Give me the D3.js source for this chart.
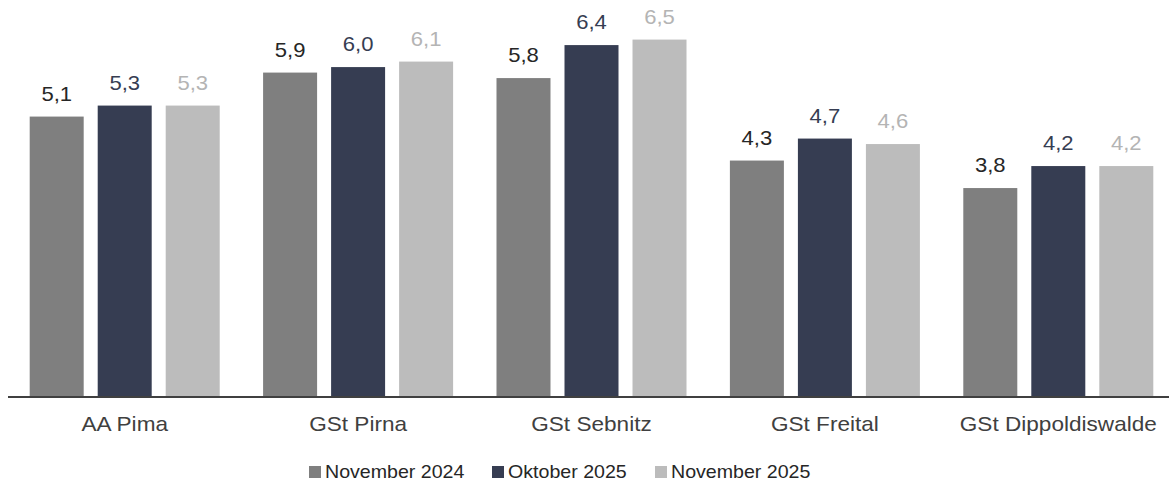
<!DOCTYPE html>
<html>
<head>
<meta charset="utf-8">
<script src="https://cdn.jsdelivr.net/npm/d3@7"></script>
<style>
    body { margin: 0; background: #fff; overflow: hidden; }
    svg { display: block; }
    text { font-family: "Liberation Sans", Arial, sans-serif; }
</style>
</head>
<body>
<div id="chart"></div>
<script>
let categories = ["AA Pima", "GSt Pirna", "GSt Sebnitz", "GSt Freital", "GSt Dippoldiswalde"];
let seriesNames = ["November 2024", "Oktober 2025", "November 2025"];
let nov2024 = [5.1, 5.9, 5.8, 4.3, 3.8];
let okt2025 = [5.3, 6.0, 6.4, 4.7, 4.2];
let nov2025 = [5.3, 6.1, 6.5, 4.6, 4.2];

let barColors = ["#7f7f7f", "#363d52", "#bcbcbc"];
let labelColors = ["#262626", "#363d52", "#b4b4b4"];

let w = 1169;
let h = 481;
let baseY = 397;

let svg = d3.select("#chart")
    .append("svg")
    .attr("width", w)
    .attr("height", h);

let xScale = d3.scaleBand()
    .domain(categories)
    .range([8, 1175]);

let xSub = d3.scaleBand()
    .domain(seriesNames)
    .range([0, xScale.bandwidth()])
    .paddingInner(0.206)
    .paddingOuter(0.319);

let yScale = d3.scaleLinear()
    .domain([0, 7.22])
    .range([baseY, 0]);

let allSeries = [nov2024, okt2025, nov2025];
let rows = [];
for (let i = 0; i < categories.length; i++) {
    for (let s = 0; s < seriesNames.length; s++) {
        rows.push({cat: categories[i], series: seriesNames[s], idx: s, value: allSeries[s][i]});
    }
}

let fmt = v => d3.format(".1f")(v).replace(".", ",");

svg.append("g")
    .selectAll("rect")
    .data(rows)
    .join("rect")
    .attr("x", d => xScale(d.cat) + xSub(d.series))
    .attr("y", d => yScale(d.value))
    .attr("width", xSub.bandwidth())
    .attr("height", d => yScale(0) - yScale(d.value))
    .attr("fill", d => barColors[d.idx]);

svg.append("g")
    .selectAll("text")
    .data(rows)
    .join("text")
    .attr("transform", d => "translate(" + (xScale(d.cat) + xSub(d.series) + xSub.bandwidth() / 2) + "," + (yScale(d.value) - 16) + ") scale(1.05,1)")
    .attr("text-anchor", "middle")
    .attr("font-size", 21)
    .attr("fill", d => labelColors[d.idx])
    .text(d => fmt(d.value));

// x axis
let xaxis = svg.append("g")
    .attr("transform", "translate(0," + baseY + ")")
    .call(d3.axisBottom(xScale).tickSize(0).tickPadding(20));
xaxis.select(".domain")
    .attr("stroke", "#404040")
    .attr("stroke-width", 2)
    .attr("d", "M8,0H1169");
xaxis.selectAll(".tick text")
    .attr("font-size", 20)
    .attr("font-family", "Liberation Sans, Arial, sans-serif")
    .attr("fill", "#404040")
    .attr("transform", "scale(1.13,1)");

// legend
let legendX = [309, 492, 655];
let legend = svg.append("g")
    .selectAll("g")
    .data(seriesNames)
    .join("g")
    .attr("transform", (d, i) => "translate(" + legendX[i] + ",466)");
legend.append("rect")
    .attr("width", 12)
    .attr("height", 12)
    .attr("fill", (d, i) => barColors[i]);
legend.append("text")
    .attr("transform", "translate(16,12) scale(1.06,1)")
    .attr("font-size", 18.5)
    .attr("fill", "#262626")
    .text(d => d);
</script>
</body>
</html>
